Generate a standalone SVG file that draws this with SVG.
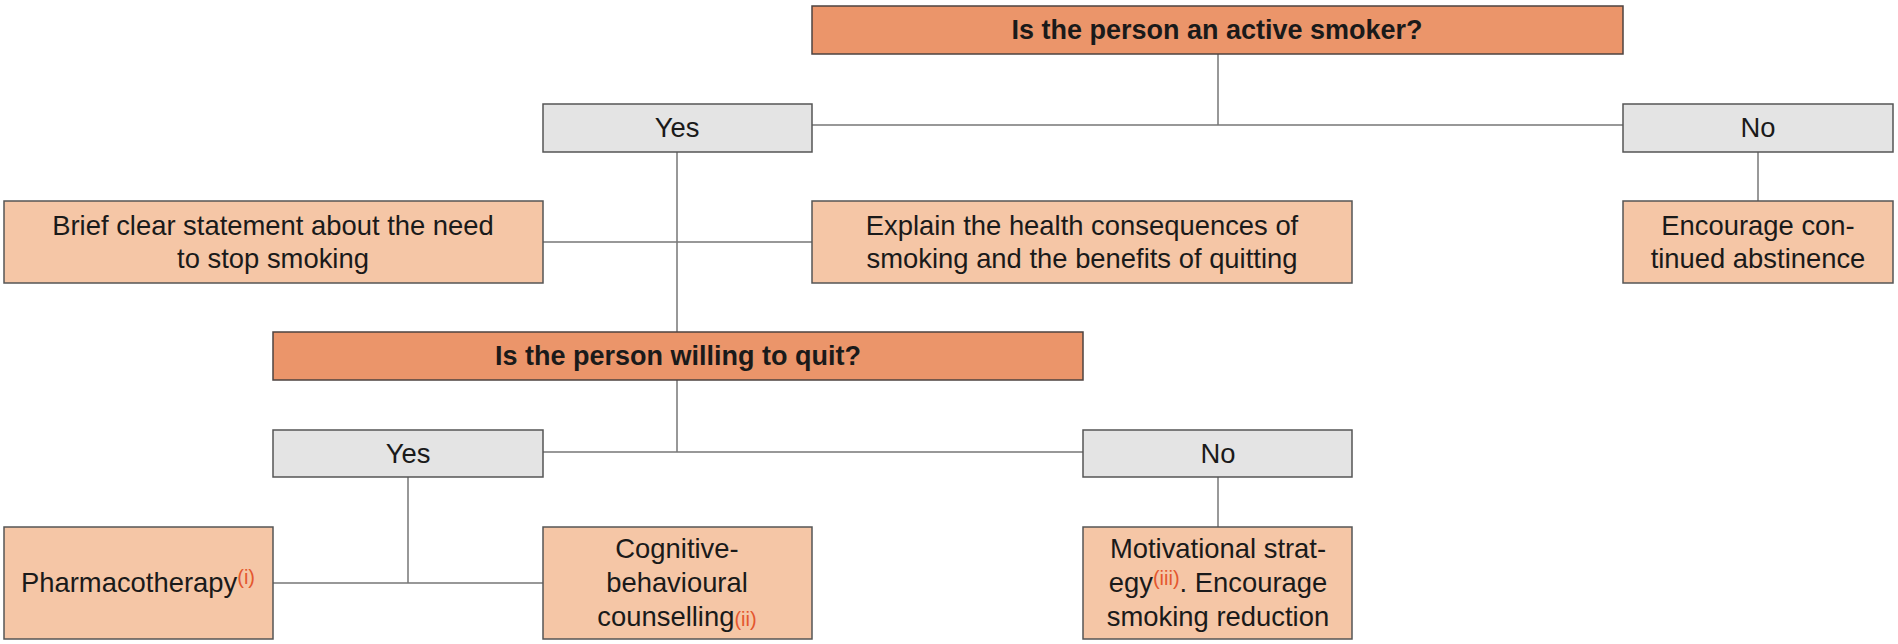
<svg xmlns="http://www.w3.org/2000/svg" width="1898" height="644" viewBox="0 0 1898 644">
<style>
.q{fill:#EB956A;stroke:#4d4340;stroke-width:1.5}
.a{fill:#E4E4E4;stroke:#555;stroke-width:1.5}
.b{fill:#F5C6A6;stroke:#555;stroke-width:1.5}
.t{font-family:"Liberation Sans",Arial,sans-serif;font-size:27.4px;fill:#1a1a1a;text-anchor:middle}
.h{font-weight:bold;font-size:27px}
.s{fill:#E4572E;font-size:20px}
.c{stroke:#777;stroke-width:1.5;fill:none}
</style>
<g id="connectors">
<path class="c" d="M1218,54V125M812,125H1623"/>
<path class="c" d="M677,152V332M543,242H812"/>
<path class="c" d="M1758,152V201"/>
<path class="c" d="M677,380V452M543,452H1083"/>
<path class="c" d="M408,477V583M273,583H543"/>
<path class="c" d="M1218,477V527"/>
</g>
<g id="q1"><rect class="q" x="812" y="6" width="811" height="48"/><text class="t h" x="1217" y="39">Is the person an active smoker?</text></g>
<g id="yes1"><rect class="a" x="543" y="104" width="269" height="48"/><text class="t" x="677" y="137">Yes</text></g>
<g id="no1"><rect class="a" x="1623" y="104" width="270" height="48"/><text class="t" x="1758" y="137">No</text></g>
<g id="brief"><rect class="b" x="4" y="201" width="539" height="82"/><text class="t" x="273" y="235">Brief clear statement about the need</text><text class="t" x="273" y="268">to stop smoking</text></g>
<g id="explain"><rect class="b" x="812" y="201" width="540" height="82"/><text class="t" x="1082" y="235">Explain the health consequences of</text><text class="t" x="1082" y="268">smoking and the benefits of quitting</text></g>
<g id="encourage"><rect class="b" x="1623" y="201" width="270" height="82"/><text class="t" x="1758" y="235">Encourage con-</text><text class="t" x="1758" y="268">tinued abstinence</text></g>
<g id="q2"><rect class="q" x="273" y="332" width="810" height="48"/><text class="t h" x="678" y="365">Is the person willing to quit?</text></g>
<g id="yes2"><rect class="a" x="273" y="430" width="270" height="47"/><text class="t" x="408" y="463">Yes</text></g>
<g id="no2"><rect class="a" x="1083" y="430" width="269" height="47"/><text class="t" x="1218" y="463">No</text></g>
<g id="pharma"><rect class="b" x="4" y="527" width="269" height="112"/><text class="t" x="138" y="592">Pharmacotherapy<tspan class="s" dy="-8">(i)</tspan></text></g>
<g id="cbt"><rect class="b" x="543" y="527" width="269" height="112"/><text class="t" x="677" y="558">Cognitive-</text><text class="t" x="677" y="592">behavioural</text><text class="t" x="677" y="626">counselling<tspan class="s">(ii)</tspan></text></g>
<g id="motiv"><rect class="b" x="1083" y="527" width="269" height="112"/><text class="t" x="1218" y="558">Motivational strat-</text><text class="t" x="1218" y="592">egy<tspan class="s" dy="-7">(iii)</tspan><tspan dy="7">. Encourage</tspan></text><text class="t" x="1218" y="626">smoking reduction</text></g>
</svg>
